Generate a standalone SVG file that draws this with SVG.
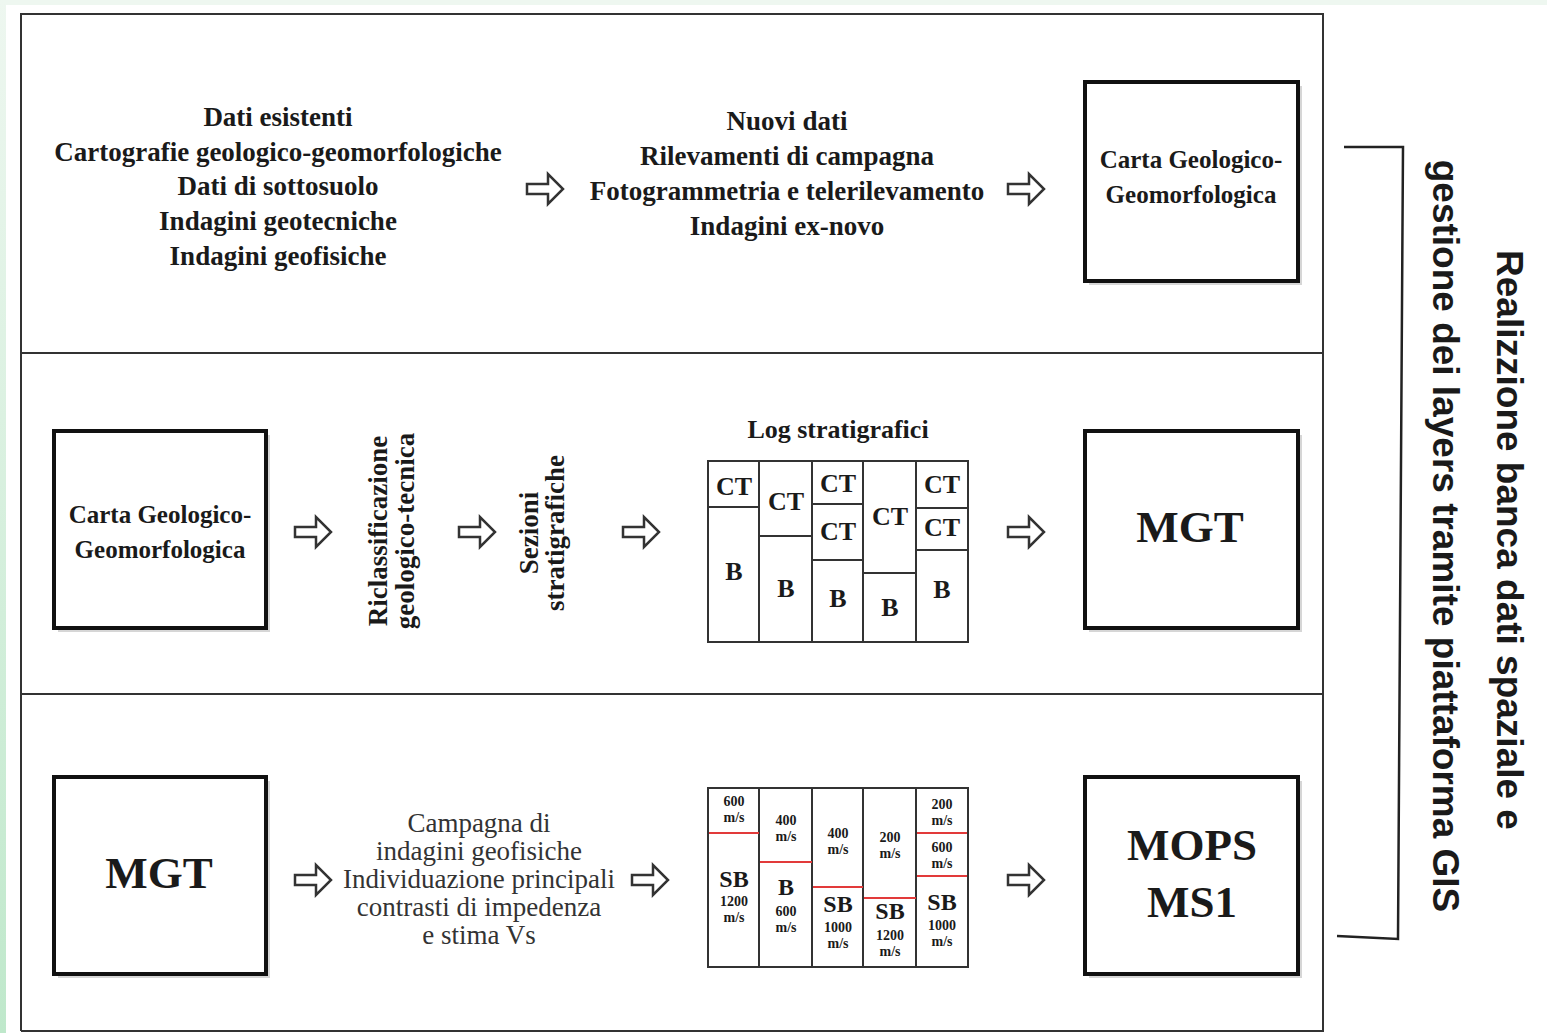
<svg xmlns="http://www.w3.org/2000/svg" width="1547" height="1033" viewBox="0 0 1547 1033">
<style>
.frame{fill:none;stroke:#333;stroke-width:2}
.box{fill:#fff;stroke:#111;stroke-width:4}
.shadow{fill:#bbb;opacity:0.6}
.tbl{fill:none;stroke:#333;stroke-width:2}
.red{stroke:#e23a3a;stroke-width:2.2}
.arrow{fill:#fff;stroke:#333;stroke-width:2.5;stroke-linejoin:miter}
.sb{font-family:"Liberation Serif","Times New Roman",serif;font-weight:bold;fill:#1a1a1a;text-anchor:middle}
.sr{font-family:"Liberation Serif","Times New Roman",serif;fill:#333;text-anchor:middle}
.t27{font-size:27px}
.t26{font-size:26px}
.t25{font-size:25px}
.t24{font-size:24px}
.big{font-size:45px}
.v{font-size:14px}
.sans{font-family:"Liberation Sans",Arial,sans-serif;font-weight:bold;font-size:37px;fill:#1a1a1a;text-anchor:middle}
</style>
<defs>
<linearGradient id="lg" x1="0" y1="0" x2="0" y2="1">
<stop offset="0" stop-color="#eef7f0"/>
<stop offset="1" stop-color="#bfe8cb"/>
</linearGradient>
<path id="arr" class="arrow" d="M0,-5 H21 V-15 L36,0 L21,15 V5 H0 Z"/>
</defs>
<rect x="0" y="0" width="1547" height="1033" fill="#fff"/>
<rect x="0" y="0" width="1547" height="5" fill="#eef7f0"/>
<rect x="0" y="0" width="6" height="1033" fill="url(#lg)"/>

<g id="frame">
<path class="frame" d="M21,1031 V14 H1323 V1031 H21"/>
<line class="frame" x1="21" y1="353" x2="1323" y2="353"/>
<line class="frame" x1="21" y1="694" x2="1323" y2="694"/>
</g>

<g id="row1-existing">
<text class="sb t27" x="278" y="126">Dati esistenti</text>
<text class="sb t27" x="278" y="161">Cartografie geologico-geomorfologiche</text>
<text class="sb t27" x="278" y="195">Dati di sottosuolo</text>
<text class="sb t27" x="278" y="230">Indagini geotecniche</text>
<text class="sb t27" x="278" y="265">Indagini geofisiche</text>
</g>
<g id="row1-new">
<text class="sb t27" x="787" y="130">Nuovi dati</text>
<text class="sb t27" x="787" y="165">Rilevamenti di campagna</text>
<text class="sb t27" x="787" y="200">Fotogrammetria e telerilevamento</text>
<text class="sb t27" x="787" y="235">Indagini ex-novo</text>
</g>
<g id="row1-carta">
<rect class="shadow" x="1089" y="86" width="213" height="199"/>
<rect class="box" x="1085" y="82" width="213" height="199"/>
<text class="sb t25" x="1191" y="168">Carta Geologico-</text>
<text class="sb t25" x="1191" y="203">Geomorfologica</text>
</g>

<g id="row2-carta">
<rect class="shadow" x="58" y="435" width="212" height="197"/>
<rect class="box" x="54" y="431" width="212" height="197"/>
<text class="sb t25" x="160" y="523">Carta Geologico-</text>
<text class="sb t25" x="160" y="558">Geomorfologica</text>
</g>
<g id="row2-riclass">
<text class="sb t27" transform="translate(387,531) rotate(-90)">Riclassificazione</text>
<text class="sb t27" transform="translate(414,531) rotate(-90)">geologico-tecnica</text>
</g>
<g id="row2-sezioni">
<text class="sb t27" transform="translate(538,533) rotate(-90)">Sezioni</text>
<text class="sb t27" transform="translate(564,533) rotate(-90)">stratigrafiche</text>
</g>
<g id="row2-log">
<text class="sb t26" x="838" y="438">Log stratigrafici</text>
<rect class="tbl" x="708" y="461" width="260" height="181"/>
<path class="tbl" d="M759,461V642 M812,461V642 M863,461V642 M916,461V642"/>
<path class="tbl" d="M708,507H759 M759,536H812 M812,504H863 M812,560H863 M863,573H916 M916,508H968 M916,550H968"/>
<text class="sb t26" x="734" y="495">CT</text>
<text class="sb t26" x="734" y="580">B</text>
<text class="sb t26" x="786" y="510">CT</text>
<text class="sb t26" x="786" y="597">B</text>
<text class="sb t26" x="838" y="492">CT</text>
<text class="sb t26" x="838" y="540">CT</text>
<text class="sb t26" x="838" y="607">B</text>
<text class="sb t26" x="890" y="525">CT</text>
<text class="sb t26" x="890" y="616">B</text>
<text class="sb t26" x="942" y="493">CT</text>
<text class="sb t26" x="942" y="536">CT</text>
<text class="sb t26" x="942" y="598">B</text>
</g>
<g id="row2-mgt">
<rect class="shadow" x="1089" y="435" width="213" height="197"/>
<rect class="box" x="1085" y="431" width="213" height="197"/>
<text class="sb big" x="1190" y="542">MGT</text>
</g>

<g id="row3-mgt">
<rect class="shadow" x="58" y="781" width="212" height="197"/>
<rect class="box" x="54" y="777" width="212" height="197"/>
<text class="sb big" x="159" y="888">MGT</text>
</g>
<g id="row3-campagna">
<text class="sr t27" x="479" y="832">Campagna di</text>
<text class="sr t27" x="479" y="860">indagini geofisiche</text>
<text class="sr t27" x="479" y="888">Individuazione principali</text>
<text class="sr t27" x="479" y="916">contrasti di impedenza</text>
<text class="sr t27" x="479" y="944">e stima Vs</text>
</g>
<g id="row3-vs">
<rect class="tbl" x="708" y="788" width="260" height="179"/>
<path class="tbl" d="M759,788V967 M812,788V967 M863,788V967 M916,788V967"/>
<path class="red" d="M709,833H759 M760,862H812 M813,887H863 M864,898H916 M917,833H967 M917,876H967"/>
<text class="sb v" x="734" y="806">600</text>
<text class="sb v" x="734" y="822">m/s</text>
<text class="sb t24" x="734" y="887">SB</text>
<text class="sb v" x="734" y="906">1200</text>
<text class="sb v" x="734" y="922">m/s</text>
<text class="sb v" x="786" y="825">400</text>
<text class="sb v" x="786" y="841">m/s</text>
<text class="sb t24" x="786" y="895">B</text>
<text class="sb v" x="786" y="916">600</text>
<text class="sb v" x="786" y="932">m/s</text>
<text class="sb v" x="838" y="838">400</text>
<text class="sb v" x="838" y="854">m/s</text>
<text class="sb t24" x="838" y="912">SB</text>
<text class="sb v" x="838" y="932">1000</text>
<text class="sb v" x="838" y="948">m/s</text>
<text class="sb v" x="890" y="842">200</text>
<text class="sb v" x="890" y="858">m/s</text>
<text class="sb t24" x="890" y="919">SB</text>
<text class="sb v" x="890" y="940">1200</text>
<text class="sb v" x="890" y="956">m/s</text>
<text class="sb v" x="942" y="809">200</text>
<text class="sb v" x="942" y="825">m/s</text>
<text class="sb v" x="942" y="852">600</text>
<text class="sb v" x="942" y="868">m/s</text>
<text class="sb t24" x="942" y="910">SB</text>
<text class="sb v" x="942" y="930">1000</text>
<text class="sb v" x="942" y="946">m/s</text>
</g>
<g id="row3-mops">
<rect class="shadow" x="1089" y="781" width="213" height="197"/>
<rect class="box" x="1085" y="777" width="213" height="197"/>
<text class="sb big" x="1192" y="860">MOPS</text>
<text class="sb big" x="1192" y="917">MS1</text>
</g>

<g id="connectors">
<use href="#arr" x="527" y="189"/>
<use href="#arr" x="1008" y="189"/>
<use href="#arr" x="295" y="532"/>
<use href="#arr" x="459" y="532"/>
<use href="#arr" x="623" y="532"/>
<use href="#arr" x="1008" y="532"/>
<use href="#arr" x="295" y="880"/>
<use href="#arr" x="632" y="880"/>
<use href="#arr" x="1008" y="880"/>
<path d="M1344,147 L1403,147 L1398,939 L1337,936" fill="none" stroke="#222" stroke-width="2.5"/>
</g>

<g id="gis-label">
<text class="sans" transform="translate(1497,540) rotate(90)">Realizzione banca dati spaziale e</text>
<text class="sans" transform="translate(1433,536) rotate(90)">gestione dei layers tramite piattaforma GIS</text>
</g>
</svg>
